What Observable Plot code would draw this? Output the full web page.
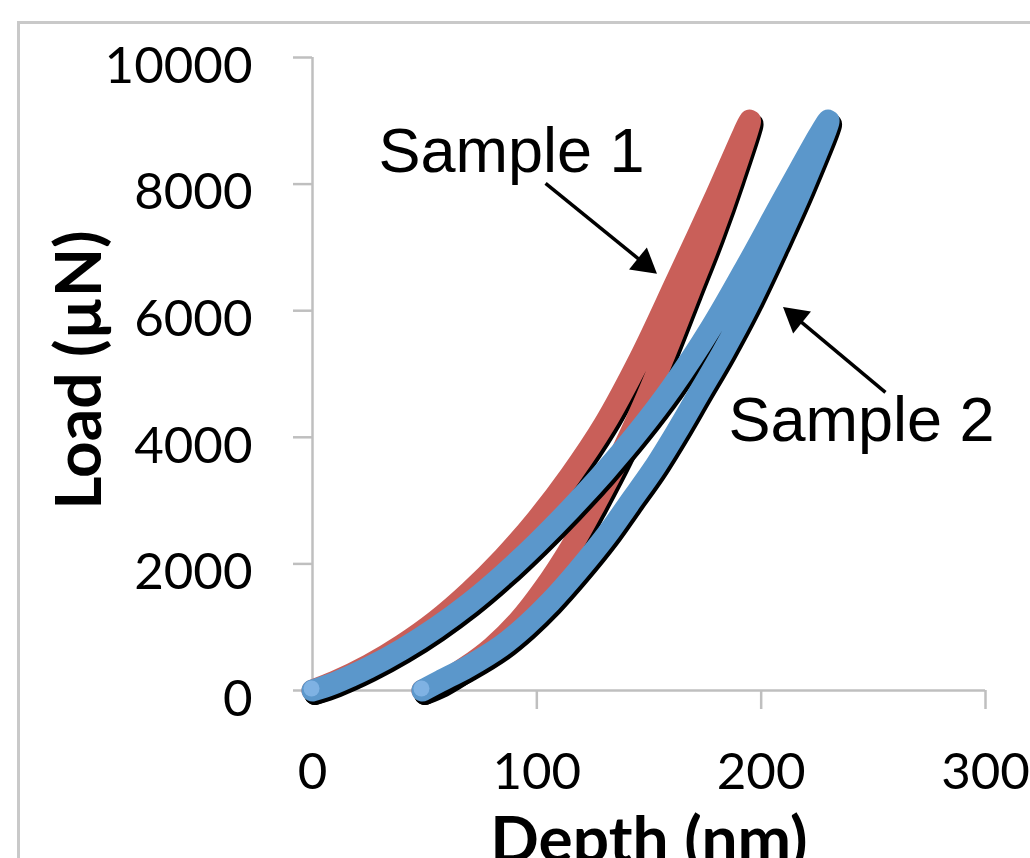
<!DOCTYPE html>
<html><head><meta charset="utf-8">
<script src="https://cdn.jsdelivr.net/npm/d3@7"></script>
<script src="https://cdn.jsdelivr.net/npm/@observablehq/plot@0.6"></script>
<style>
html,body{margin:0;padding:0;background:#fff;overflow:hidden;}
#wrap{position:relative;width:1030px;height:858px;overflow:hidden;}
#chart svg{display:block;}
#frame{position:absolute;left:17px;top:21px;width:1100px;height:900px;border:3px solid #c9c9c9;pointer-events:none;}
</style></head><body>
<div id="wrap"><div id="chart"></div><div id="frame"></div></div>
<script>
// Sample 1 (red): loading and unloading branches
const sample1LoadingDepth = [0,10,25,40,55,70,85,100,115,130,146,162,179,195];
const sample1LoadingLoad  = [0,140,400,720,1100,1560,2090,2700,3400,4200,5250,6450,7750,9000];
const sample1UnloadingDepth = [195,187,178,168,158,148,137,126,115,103,92,80,68,57,49];
const sample1UnloadingLoad  = [9000,8100,7200,6300,5400,4550,3700,2950,2250,1600,1100,680,360,120,0];
// Sample 2 (blue)
const sample2LoadingDepth = [0,10,25,40,55,70,85,100,115,130,145,160,178,195,212,230];
const sample2LoadingLoad  = [0,120,360,650,990,1380,1830,2330,2870,3450,4080,4780,5750,6800,7900,9000];
const sample2UnloadingDepth = [230,219,207,194,183,172,162,152,141,131,118,106,95,84,69,57,49];
const sample2UnloadingLoad  = [9000,8000,7050,6080,5350,4680,4070,3500,2950,2450,1880,1400,1020,700,370,150,0];

const xTicks = [0,100,200,300];
const xTickMarks = [100,200,300];
const yTicks = [0,2000,4000,6000,8000,10000];

const annotationText = ["Sample 1","Sample 2"];
const annotationDepth = [29.4,185.4];
const annotationLoad = [8184,3934];

const arrowFromDepth = [103.9,255.4];
const arrowFromLoad = [8010,4710];
const arrowToDepth = [147.9,215.4];
const arrowToLoad = [6745,5895];
const arrowAngle = [129,309];

const red = "#C95F59", blue = "#5B97CB", lightBlue = "#7FB2E3", axisGray = "#BFBFBF";

function series(name, ld, ll, ud, ul) {
  const rows = [];
  ld.forEach((d,i)=>rows.push({sample:name, depth:d, load:ll[i]}));
  ud.slice(1).forEach((d,i)=>rows.push({sample:name, depth:d, load:ul[i+1]}));
  return rows;
}
const s1 = series("Sample 1", sample1LoadingDepth, sample1LoadingLoad, sample1UnloadingDepth, sample1UnloadingLoad);
const s2 = series("Sample 2", sample2LoadingDepth, sample2LoadingLoad, sample2UnloadingDepth, sample2UnloadingLoad);
const ends = [s2[0], s2[s2.length-1]];
const labels = annotationText.map((t,i)=>({text:t, x:annotationDepth[i], y:annotationLoad[i]}));
const arrows = arrowFromDepth.map((d,i)=>({x1:d, y1:arrowFromLoad[i], x2:arrowToDepth[i], y2:arrowToLoad[i], angle:arrowAngle[i]}));

const lineOpts = {x:"depth", y:"load", curve:"catmull-rom", strokeWidth:22, strokeLinecap:"round", strokeLinejoin:"round"};

const chart = Plot.plot({
  width:1030, height:858,
  marginLeft:312, marginRight:45, marginTop:57, marginBottom:168,
  x:{domain:[0,300]}, y:{domain:[0,10000]},
  style:{fontFamily:"Lato", background:"transparent", color:"black"},
  marks:[
    Plot.ruleX([0], {stroke:axisGray, strokeWidth:2.5}),
    Plot.ruleY([0], {stroke:axisGray, strokeWidth:2.5}),
    Plot.axisY(yTicks, {tickSize:19, fill:"none", stroke:axisGray, strokeWidth:2.5, label:null}),
    Plot.axisY(yTicks, {tickSize:0, tickPadding:60, dy:9, fill:"black", fontSize:51, tickFormat:d3.format("d"), label:null}),
    Plot.axisX(xTickMarks, {tickSize:19, fill:"none", stroke:axisGray, strokeWidth:2.5, label:null}),
    Plot.axisX(xTicks, {tickSize:0, tickPadding:62, fill:"black", fontSize:51, tickFormat:d3.format("d"), label:null}),
    Plot.line(s1, {...lineOpts, stroke:"black", dx:2.5, dy:3.5}),
    Plot.line(s1, {...lineOpts, stroke:red}),
    Plot.line(s2, {...lineOpts, stroke:"black", dx:2.5, dy:3.5}),
    Plot.line(s2, {...lineOpts, stroke:blue}),
    Plot.dot(ends, {x:"depth", y:"load", r:8, fill:lightBlue, dx:-1, dy:-2}),
    Plot.link(arrows, {x1:"x1", y1:"y1", x2:"x2", y2:"y2", stroke:"black", strokeWidth:3.5}),
    Plot.dot(arrows, {x:"x2", y:"y2", symbol:"triangle", r:10.5, fill:"black", rotate:"angle"}),
    Plot.text(labels, {x:"x", y:"y", text:"text", textAnchor:"start", lineAnchor:"bottom", fontFamily:"Liberation Sans, Arial, sans-serif", fontSize:63, fill:"black"}),
    Plot.text(["Load (µN)"], {frameAnchor:"left", textAnchor:"middle", rotate:-90, dx:-232, dy:-4, fontSize:64, fontWeight:"bold", fill:"black"}),
    Plot.text(["Depth (nm)"], {frameAnchor:"bottom", lineAnchor:"bottom", dy:171, fontSize:64, fontWeight:"bold", fill:"black"})
  ]
});
document.getElementById("chart").appendChild(chart);
</script>
</body></html>
